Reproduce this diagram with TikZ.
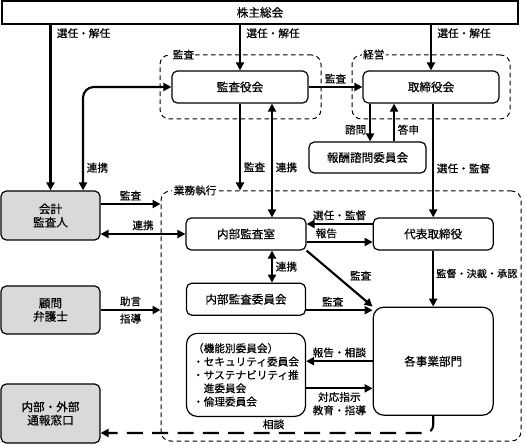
\documentclass[tikz,border=0pt]{standalone}
\usepackage{fontspec}
\setmainfont{Noto Sans CJK JP}[FakeBold=0.5]
\usetikzlibrary{positioning,arrows.meta,calc}

\begin{document}
\begin{tikzpicture}[
  x=0.75pt, y=-0.75pt,
  font=\fontsize{8.7}{10}\selectfont,
  box/.style={draw, rounded corners=4pt, fill=white, line width=0.9pt, align=center, inner sep=2pt},
  extbox/.style={box, fill=black!15, minimum width=74.25pt},
  group/.style={draw, rounded corners=7pt, line width=0.75pt, dash pattern=on 3.5pt off 2.5pt},
  glabel/.style={font=\fontsize{8}{10}\selectfont, fill=white, inner sep=1pt, anchor=west},
  lbl/.style={font=\fontsize{8}{10}\selectfont, inner sep=2pt},
  arrow/.style={-{Triangle[length=6pt,width=6pt]}, line width=1.6pt},
  darrow/.style={{Triangle[length=6pt,width=6pt]}-{Triangle[length=6pt,width=6pt]}, line width=1.6pt}
]
\useasboundingbox (0,0) rectangle (525,445);

% Shareholders
\node[box, rounded corners=0pt, minimum width=387pt, minimum height=17.25pt] (sh) at (260,12.5) {株主総会};

% Groups
\node[group, minimum width=120.75pt, minimum height=48pt] (gkansa) at (240.5,87) {};
\node[group, minimum width=118.5pt, minimum height=48pt] (gkeiei) at (431,87) {};
\node[group, minimum width=270pt, minimum height=187.5pt] (gyomu) at (341,316) {};
\node[glabel] at ([xshift=8.75pt]gkansa.north west) {監査};
\node[glabel] at ([xshift=7.5pt]gkeiei.north west) {経営};
\node[glabel] at ([xshift=8.75pt]gyomu.north west) {業務執行};

% Audit and management
\node[box, minimum width=102pt, minimum height=24pt] (kansa) at (240,87) {監査役会};
\node[box, minimum width=102pt, minimum height=24pt] (tori) at (431,87) {取締役会};
\node[box, minimum width=87.75pt, minimum height=23.25pt] (hoshu) at (367.5,157.5) {報酬諮問委員会};

% Execution
\node[box, minimum width=90pt, minimum height=24pt] (naibu) at (246,234) {内部監査室};
\node[box, minimum width=90pt, minimum height=24pt, right=49.5pt of naibu] (daihyo) {代表取締役};
\node[box, minimum width=89.25pt, minimum height=24pt, below=24pt of naibu] (iinkai) {内部監査委員会};
\node[box, rounded corners=8pt, minimum width=89.25pt, minimum height=62.25pt, below=12.75pt of iinkai,
  align=left, font=\fontsize{8}{10}\selectfont] (kino)
  {（機能別委員会）\\・セキュリティ委員会\\・サステナビリティ推\\　進委員会\\・倫理委員会};
\node[box, rounded corners=8pt, minimum width=90pt, minimum height=81pt, below=42pt of daihyo] (jigyo) {各事業部門};

% Outside parties
\node[extbox, minimum height=36.75pt] (kaikei) at (50.5,215.5) {会計\\監査人};
\node[extbox, minimum height=36pt] (komon) at (50.5,310) {顧問\\弁護士};
\node[extbox, minimum height=44.25pt] (tsuho) at (50.5,413.5) {内部・外部\\通報窓口};

% Election from shareholders
\draw[arrow] (kaikei.north |- sh.south) -- (kaikei.north) node[lbl, anchor=north west, pos=0, xshift=2pt] {選任・解任};
\draw[arrow] (kansa.north |- sh.south) -- (kansa.north) node[lbl, anchor=north west, pos=0, xshift=2pt] {選任・解任};
\draw[arrow] (tori.north |- sh.south) -- (tori.north) node[lbl, anchor=north west, pos=0, xshift=2pt] {選任・解任};

% Audit and management arrows
\draw[arrow] (kansa) -- (tori) node[lbl, midway, above] {監査};
\draw[darrow, rounded corners=8pt] ([xshift=24.4pt]kaikei.north) |- (kansa.west) node[lbl, right, pos=0.11] {連携};
\draw[arrow] (kansa.south) -- (kansa.south |- gyomu.north) node[lbl, right, pos=0.73] {監査};
\draw[darrow] ([xshift=19.5pt]naibu.north |- kansa.south) -- ([xshift=19.5pt]naibu.north) node[lbl, right, pos=0.56] {連携};
\draw[arrow] ([xshift=1.9pt]hoshu.north |- tori.south) -- ([xshift=1.9pt]hoshu.north) node[lbl, left, pos=0.69] {諮問};
\draw[arrow] ([xshift=19.9pt]hoshu.north) -- ([xshift=19.9pt]hoshu.north |- tori.south) node[lbl, right, pos=0.31] {答申};
\draw[arrow] (daihyo.north |- tori.south) -- (daihyo.north) node[lbl, right, pos=0.57] {選任・監督};

% Execution arrows
\draw[arrow] ([yshift=7.5pt]daihyo.west) -- ([yshift=7.5pt]daihyo.west -| naibu.east) node[lbl, midway, above] {選任・監督};
\draw[arrow] ([yshift=-6pt]naibu.east) -- ([yshift=-6pt]naibu.east -| daihyo.west) node[lbl, pos=0.3, above] {報告};
\draw[darrow] ([xshift=19.5pt]naibu.south) -- ([xshift=19.5pt]naibu.south |- iinkai.north) node[lbl, right, midway] {連携};
\draw[arrow] (naibu.south east) -- (jigyo.north west) node[lbl, pos=0.6, above right] {監査};
\draw[arrow] (daihyo) -- (jigyo) node[lbl, right, pos=0.41, font=\fontsize{7.6}{10}\selectfont, inner sep=1.5pt] {監督・決裁・承認};
\draw[arrow] ([yshift=-8.25pt]iinkai.east) -- ([yshift=-8.25pt]iinkai.east -| jigyo.west) node[lbl, pos=0.4, above] {監査};
\draw[arrow] (jigyo.west) -- (jigyo.west -| kino.east) node[lbl, midway, above] {報告・相談};
\draw[arrow] ([yshift=-10.1pt]kino.east) -- ([yshift=-10.1pt]kino.east -| jigyo.west) node[lbl, midway, below, align=center] {対応指示\\教育・指導};

% Outside parties arrows
\draw[arrow] ([yshift=8.6pt]kaikei.east) -- ([yshift=8.6pt]kaikei.east -| gyomu.west) node[lbl, midway, above] {監査};
\draw[darrow] (naibu.west) -- (naibu.west -| kaikei.east) node[lbl, midway, above] {連携};
\draw[arrow] (komon.east) -- (komon.east -| gyomu.west) node[lbl, midway, above] {助言} node[lbl, midway, below] {指導};
\draw[arrow, dash pattern=on 12pt off 7pt, rounded corners=6pt] (jigyo.south) |- ([yshift=-14.6pt]tsuho.east) node[lbl, pos=0.74, above] {相談};

\end{tikzpicture}
\end{document}
